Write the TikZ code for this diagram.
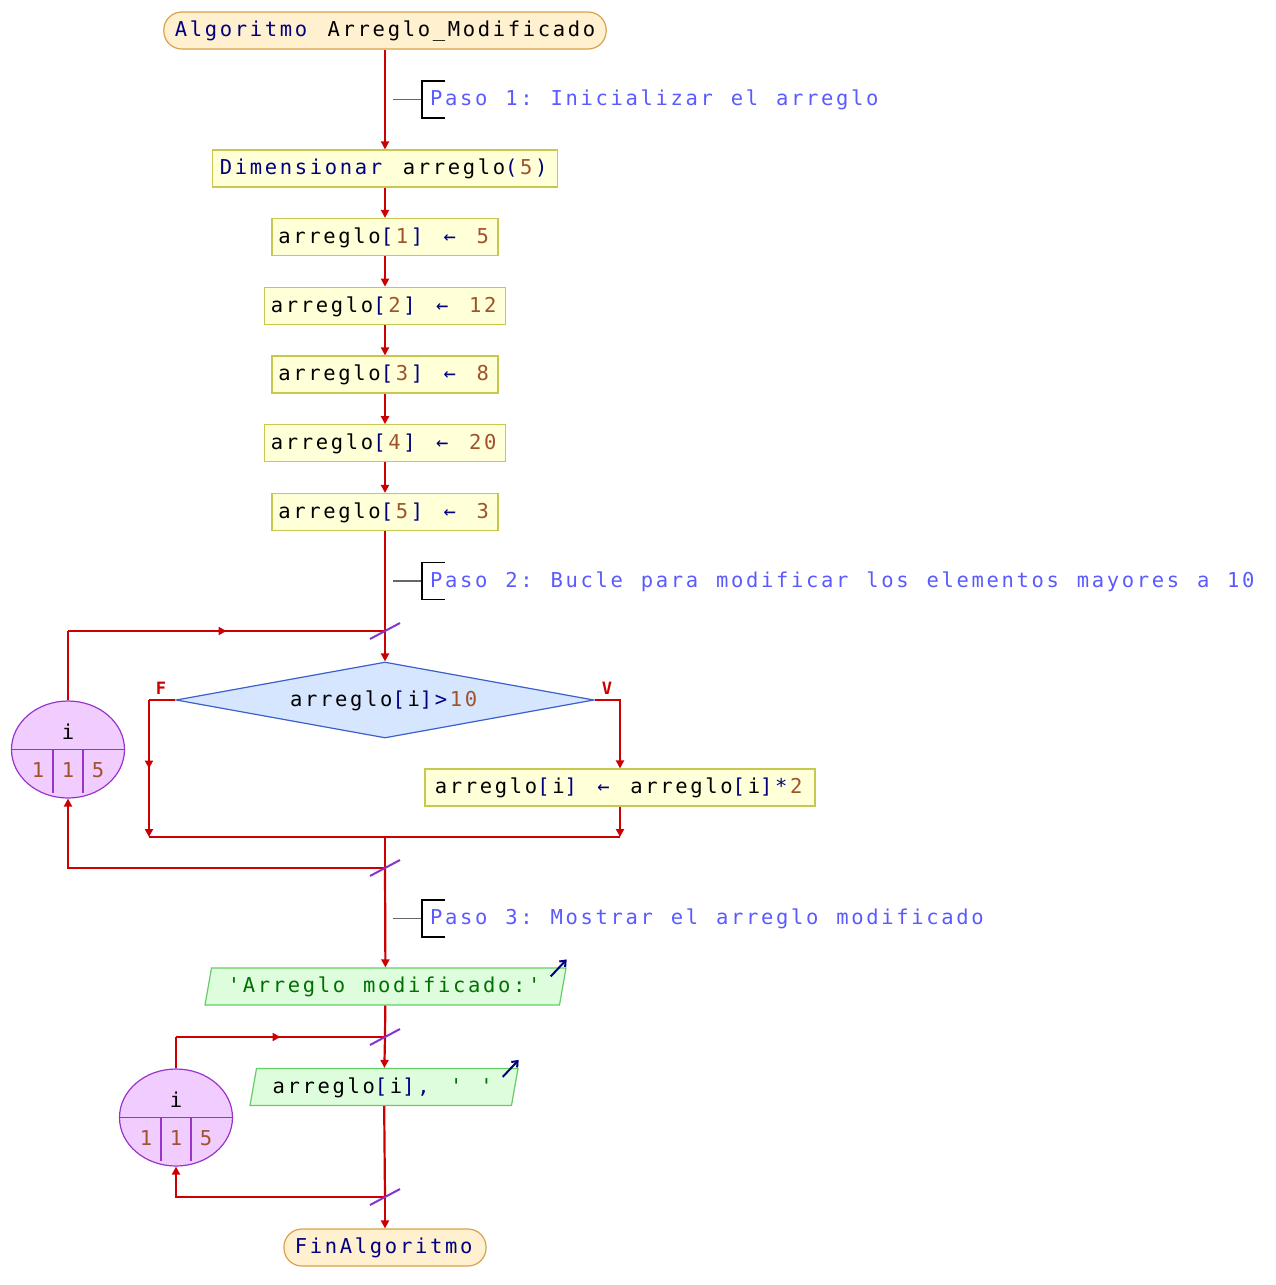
\documentclass[tikz,border=0pt]{standalone}
\usepackage{fontspec}
\usetikzlibrary{shapes.geometric,arrows.meta,decorations.markings}
\newfontfamily\codigo[LetterSpace=13,WordSpace={1.19,0,0}]{DejaVu Sans Mono}
\frenchspacing
\newdimen\lsp \lsp=2.665pt
\definecolor{rojo}{HTML}{CC0000}
\definecolor{azul}{HTML}{000080}
\definecolor{cafe}{HTML}{A0522D}
\definecolor{verde}{HTML}{007000}
\definecolor{azulnota}{HTML}{5A5AFF}
\definecolor{morado}{HTML}{8833CC}
\definecolor{termborde}{HTML}{D9A24A}
\definecolor{termfondo}{HTML}{FFF0CF}
\definecolor{procborde}{HTML}{C8C850}
\definecolor{procfondo}{HTML}{FFFFD8}
\definecolor{decborde}{HTML}{3C5FCC}
\definecolor{decfondo}{HTML}{D6E6FF}
\definecolor{esborde}{HTML}{66CC66}
\definecolor{esfondo}{HTML}{DDFDDD}
\definecolor{cicborde}{HTML}{9933CC}
\definecolor{cicfondo}{HTML}{F0CCFF}
\newcommand{\pinta}[2]{\ifnum\lastnodetype=9 \kern\lsp\fi\textcolor{#1}{#2}\kern\lsp}
\newcommand{\kw}[1]{\pinta{azul}{#1}}
\newcommand{\nm}[1]{\pinta{cafe}{#1}}
\newcommand{\cad}[1]{\pinta{verde}{#1}}
\newcommand{\flecha}{\kw{←}}
\tikzset{
  texto/.style={font=\codigo\fontsize{20.5}{24}\selectfont,text height=15.5pt,text depth=3pt},
  terminal/.style={texto,draw=termborde,fill=termfondo,line width=1.2pt,rounded corners=18pt,minimum height=37pt,inner xsep=11pt,inner ysep=0pt},
  proceso/.style={texto,draw=procborde,fill=procfondo,line width=1.2pt,minimum height=37pt,inner xsep=6.5pt,inner ysep=0pt},
  decision/.style={texto,diamond,aspect=5.5,draw=decborde,fill=decfondo,line width=1.2pt,minimum width=418pt,minimum height=76pt,inner sep=0pt},
  salida/.style={texto,trapezium,trapezium left angle=70.6,trapezium right angle=109.4,trapezium stretches body,draw=esborde,fill=esfondo,line width=1.2pt,minimum height=37pt,inner ysep=0pt},
  ciclo/.style={ellipse,draw=cicborde,fill=cicfondo,line width=1.2pt,minimum width=113pt,minimum height=97pt},
  linea/.style={draw=rojo,line width=2.2pt},
  flujo/.style={linea,-{Triangle[length=8pt,width=8pt]}},
  medio/.style={postaction={decorate},decoration={markings,mark=at position 0.5 with {\arrow[rojo]{Triangle[length=8pt,width=8pt]}}}},
  corte/.style={draw=morado,line width=2pt},
  nota/.style={texto,text=azulnota,anchor=west,inner sep=0pt},
  etiq/.style={font=\codigo\fontsize{17}{20}\selectfont\bfseries,text=rojo}
}
\begin{document}
\begin{tikzpicture}[x=1pt,y=-1pt]
\useasboundingbox (0,0) rectangle (1275,1285);

\node[terminal] (ini) at (385,30.5) {\kw{Algoritmo} Arreglo\_Modificado};
\node[proceso,minimum width=345pt] (dim) at (385,168.5) {\kw{Dimensionar} arreglo\kw{(}\nm{5}\kw{)}};
\foreach \k/\v in {1/5,2/12,3/8,4/20,5/3}
\node[proceso] (a\k) at (385,{168.25+68.75*\k}) {arreglo\kw{[}\nm{\k}\kw{]} \flecha{} \nm{\v}};

\draw[flujo] (ini) -- (dim);
\draw[flujo] (dim) -- (a1);
\foreach \k/\s in {1/2,2/3,3/4,4/5}
\draw[flujo] (a\k) -- (a\s);

\foreach \y/\txt [count=\n] in {99.5/{Paso 1: Inicializar el arreglo},581/{Paso 2: Bucle para modificar los elementos mayores a 10},918.5/{Paso 3: Mostrar el arreglo modificado}}{
\draw[gray!80!black,line width=1.2pt] (393,\y) -- (422,\y);
\draw[line width=1.2pt] (445,\y-18.5) -- (422,\y-18.5) -- (422,\y+18.5) -- (445,\y+18.5);
\node[nota] (nota\n) at (430,\y) {\txt};
}

\coordinate (j1) at (385,631);
\coordinate (j2) at (385,868);
\coordinate (j3) at (385,1037);
\coordinate (j4) at (385,1197);
\coordinate (fizq) at (149,837);

\node[decision] (dec) at (385,700) {arreglo\kw{[}i\kw{]}\kw{>}\nm{10}};
\node[etiq] (lblF) at (161,688) {F};
\node[etiq] (lblV) at (607,688) {V};
\node[proceso,minimum width=390pt] (mult) at (620,787.5) {arreglo\kw{[}i\kw{]} \flecha{} arreglo\kw{[}i\kw{]}\kw{*}\nm{2}};
\node[ciclo] (cic1) at (68,749.5) {};

\draw[linea] (a5) -- (j1);
\draw[flujo] (j1) -- (dec);
\draw[linea] (cic1.north) -- (cic1.north |- j1);
\draw[linea,medio] (cic1.north |- j1) -- (j1);
\draw[linea] (dec.west) -- (dec.west -| fizq);
\draw[flujo,medio] (dec.west -| fizq) -- (fizq);
\draw[flujo] (dec.east) -| (mult.north);
\draw[flujo] (mult.south) -- (mult.south |- fizq);
\draw[linea] (fizq) -- (mult.south |- fizq);
\draw[linea] (fizq -| dec) -- (j2);
\draw[flujo] (j2) -| (cic1.south);

\node[salida,minimum width=361pt] (s1) at (385.5,986.5) {\cad{'Arreglo modificado:'}};
\node[salida,minimum width=268pt] (s2) at (384,1087) {arreglo\kw{[}i\kw{]}\kw{,} \cad{' '}};
\node[ciclo] (cic2) at (176,1117.5) {};
\node[terminal] (fin) at (385,1247.5) {\kw{FinAlgoritmo}};

\draw[flujo] (j2) -- (s1);
\draw[linea] (s1) -- (j3);
\draw[flujo] (j3) -- (s2);
\draw[linea] (cic2.north) -- (cic2.north |- j3);
\draw[linea,medio] (cic2.north |- j3) -- (j3);
\draw[linea] (s2) -- (j4);
\draw[flujo] (j4) -| (cic2.south);
\draw[flujo] (j4) -- (fin);

\foreach \s in {s1,s2}
\draw[azul,line width=2pt,-{Straight Barb[length=5pt,width=8pt]}] ([shift={(-16,9)}]\s.top right corner) -- ([shift={(0,-8)}]\s.top right corner);

\foreach \j in {j1,j2,j3,j4}
\draw[corte] ([shift={(-15,8)}]\j) -- ([shift={(15,-8)}]\j);

\foreach \c in {cic1,cic2}{
\draw[cicborde,line width=1.2pt] (\c.west) -- (\c.east);
\draw[cicborde,line width=1.2pt] ([shift={(-15,0)}]\c.center) -- ++(0,43);
\draw[cicborde,line width=1.2pt] ([shift={(15,0)}]\c.center) -- ++(0,43);
\node[texto] (\c var) at ([shift={(0,-16.5)}]\c.center) {i};
\foreach \d/\v [count=\m] in {-30/1,0/1,30/5}
\node[texto,text=cafe] (\c val\m) at ([shift={(\d,21.5)}]\c.center) {\v};
}

\end{tikzpicture}
\end{document}
